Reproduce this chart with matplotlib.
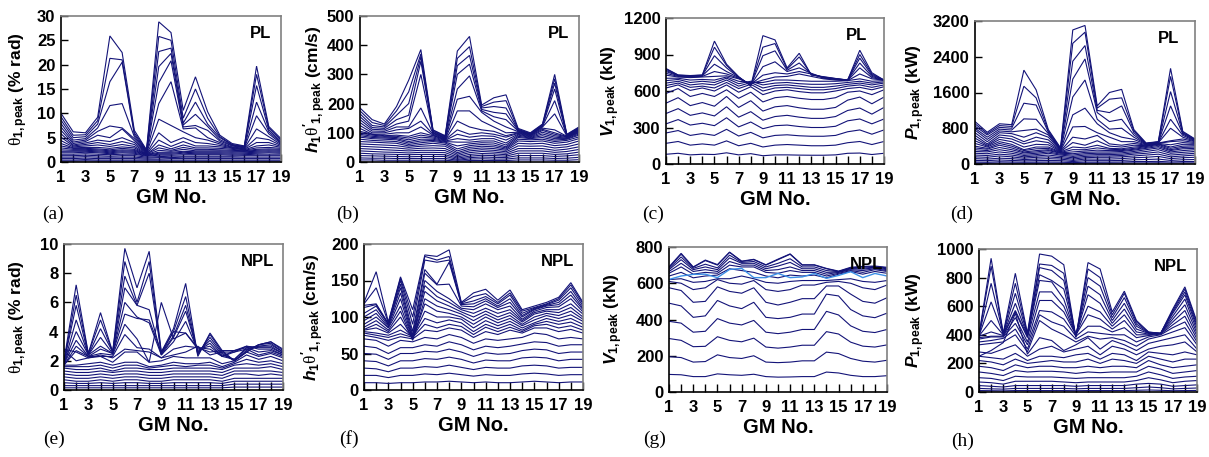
import matplotlib
matplotlib.use('Agg')
import matplotlib.pyplot as plt

plt.rcParams.update({
    'font.family': ['Liberation Sans', 'DejaVu Sans'],
    'font.weight': 'bold',
    'mathtext.fontset': 'custom',
    'mathtext.rm': 'Liberation Sans:bold',
    'mathtext.bf': 'Liberation Sans:bold',
    'mathtext.sf': 'Liberation Sans:bold',
    'mathtext.it': 'Liberation Sans:bold:italic',
    'mathtext.cal': 'Liberation Serif:regular',
})

# ---------------- data ----------------
gm_no = list(range(1, 20))
x_tick_labels = ['1', '3', '5', '7', '9', '11', '13', '15', '17', '19']

theta_pl = [
    [10.0, 6.2, 6.0, 9.2, 25.9, 22.5, 6.5, 2.5, 28.8, 26.6, 10.6, 17.5, 10.3, 5.5, 3.8, 3.3, 19.7, 7.3, 4.8],
    [9.3, 5.5, 5.6, 8.5, 21.3, 21.0, 6.0, 2.4, 25.8, 25.0, 9.0, 15.0, 9.0, 5.2, 3.6, 3.2, 18.0, 7.0, 4.5],
    [8.6, 5.0, 5.2, 7.8, 16.5, 20.5, 5.6, 2.3, 22.7, 23.4, 8.0, 12.3, 7.8, 5.0, 3.5, 3.1, 15.7, 6.6, 4.2],
    [7.9, 4.5, 4.8, 7.0, 11.6, 12.0, 5.2, 2.2, 19.6, 22.3, 7.6, 9.8, 7.3, 4.6, 3.4, 3.0, 12.3, 6.2, 4.0],
    [7.2, 4.1, 4.5, 6.3, 7.4, 7.0, 4.8, 2.1, 16.3, 20.8, 7.2, 7.5, 6.5, 4.3, 3.3, 2.9, 9.5, 5.8, 3.8],
    [6.5, 3.8, 4.2, 5.5, 5.0, 6.8, 4.4, 2.0, 12.0, 16.5, 6.8, 7.0, 5.0, 4.0, 3.1, 2.8, 6.8, 5.2, 3.6],
    [5.8, 3.5, 3.9, 4.5, 4.2, 5.0, 4.0, 1.9, 8.8, 7.5, 6.2, 5.0, 4.5, 3.7, 3.0, 2.7, 5.0, 4.6, 3.4],
    [5.1, 3.3, 3.6, 4.0, 3.6, 4.2, 3.6, 1.8, 6.0, 4.0, 5.0, 4.0, 3.8, 3.4, 2.9, 2.6, 4.0, 4.0, 3.2],
    [4.4, 3.1, 3.3, 3.5, 3.2, 3.6, 3.2, 1.7, 4.5, 3.2, 4.2, 3.3, 3.3, 3.1, 2.8, 2.5, 3.3, 3.5, 3.0],
    [3.8, 2.9, 3.0, 3.0, 2.8, 3.1, 2.9, 1.6, 3.5, 2.7, 3.5, 2.9, 2.9, 2.8, 2.6, 2.4, 2.9, 3.0, 2.8],
    [3.3, 2.8, 2.8, 2.7, 2.5, 2.8, 2.6, 1.6, 2.9, 2.4, 3.0, 2.6, 2.6, 2.5, 2.4, 2.3, 2.6, 2.7, 2.6],
    [2.9, 2.6, 2.6, 2.5, 2.3, 2.5, 2.4, 1.5, 2.4, 2.2, 2.6, 2.3, 2.3, 2.3, 2.2, 2.2, 2.4, 2.5, 2.4],
    [2.5, 2.4, 2.4, 2.3, 2.1, 2.3, 2.2, 1.5, 2.0, 2.0, 2.2, 2.1, 2.1, 2.1, 2.0, 2.1, 2.2, 2.3, 2.2],
    [2.2, 2.2, 2.2, 2.1, 1.9, 2.1, 2.0, 1.4, 1.8, 1.8, 2.0, 1.9, 1.9, 1.9, 1.8, 1.9, 2.0, 2.1, 2.0],
    [1.9, 1.9, 2.0, 1.9, 1.7, 1.9, 1.8, 1.3, 1.6, 1.6, 1.8, 1.7, 1.7, 1.7, 1.6, 1.7, 1.8, 1.9, 1.8],
    [1.6, 1.6, 1.7, 1.6, 1.5, 1.6, 1.6, 1.2, 1.4, 1.4, 1.5, 1.5, 1.5, 1.5, 1.4, 1.5, 1.6, 1.6, 1.6],
    [1.3, 1.3, 1.4, 1.3, 1.2, 1.3, 1.3, 1.0, 1.1, 1.2, 1.2, 1.2, 1.2, 1.2, 1.2, 1.3, 1.3, 1.3, 1.3],
    [1.0, 1.0, 1.1, 1.0, 1.0, 1.0, 1.0, 0.8, 0.9, 0.9, 1.0, 1.0, 1.0, 1.0, 1.0, 1.0, 1.0, 1.0, 1.0],
    [0.7, 0.7, 0.8, 0.7, 0.7, 0.7, 0.7, 0.6, 0.6, 0.7, 0.7, 0.7, 0.7, 0.7, 0.7, 0.7, 0.7, 0.7, 0.7],
    [0.4, 0.4, 0.5, 0.4, 0.4, 0.4, 0.4, 0.4, 0.4, 0.4, 0.4, 0.4, 0.4, 0.4, 0.4, 0.4, 0.4, 0.4, 0.4],
    [0.2, 0.2, 0.25, 0.2, 0.2, 0.2, 0.2, 0.2, 0.2, 0.2, 0.2, 0.2, 0.2, 0.2, 0.2, 0.2, 0.2, 0.2, 0.2],
]

hvel_pl = [
    [185, 145, 130, 190, 280, 385, 110, 90, 380, 430, 195, 220, 230, 115, 100, 130, 300, 95, 120],
    [175, 135, 125, 175, 240, 370, 108, 88, 355, 395, 190, 205, 210, 112, 98, 128, 285, 93, 118],
    [165, 125, 120, 160, 200, 360, 105, 86, 330, 365, 185, 190, 185, 110, 96, 126, 270, 92, 116],
    [155, 118, 115, 145, 160, 345, 102, 84, 300, 335, 180, 170, 165, 108, 95, 124, 250, 91, 114],
    [145, 112, 110, 130, 140, 300, 100, 82, 250, 295, 175, 155, 145, 106, 94, 122, 210, 90, 112],
    [135, 106, 105, 120, 120, 185, 98, 80, 215, 225, 170, 140, 120, 104, 93, 120, 165, 89, 110],
    [125, 100, 100, 110, 115, 140, 95, 78, 175, 175, 140, 120, 100, 102, 92, 116, 110, 88, 108],
    [115, 95, 95, 100, 100, 120, 92, 76, 140, 120, 110, 105, 90, 100, 90, 112, 100, 87, 106],
    [105, 95, 90, 92, 88, 100, 90, 76, 110, 95, 100, 95, 85, 98, 88, 108, 95, 86, 104],
    [100, 92, 88, 88, 82, 92, 86, 74, 95, 85, 90, 88, 75, 95, 86, 102, 90, 84, 102],
    [95, 88, 85, 84, 76, 85, 82, 72, 80, 75, 80, 80, 65, 92, 84, 96, 85, 82, 100],
    [90, 84, 82, 80, 70, 78, 78, 70, 68, 68, 72, 72, 58, 88, 82, 90, 80, 80, 96],
    [85, 80, 78, 76, 65, 72, 74, 68, 55, 62, 66, 65, 52, 84, 80, 84, 75, 78, 92],
    [78, 74, 72, 70, 60, 66, 70, 65, 45, 56, 60, 58, 48, 78, 76, 78, 70, 74, 86],
    [70, 68, 66, 64, 55, 60, 64, 60, 38, 50, 54, 52, 44, 72, 70, 72, 64, 68, 80],
    [62, 60, 58, 56, 50, 54, 56, 54, 32, 44, 48, 46, 40, 64, 62, 64, 56, 60, 72],
    [54, 52, 50, 48, 44, 47, 48, 46, 27, 38, 42, 40, 35, 55, 54, 55, 48, 52, 62],
    [46, 44, 42, 40, 38, 40, 40, 39, 22, 32, 36, 34, 30, 46, 46, 46, 40, 44, 52],
    [38, 36, 34, 33, 31, 33, 33, 32, 17, 26, 29, 28, 25, 38, 38, 38, 33, 36, 43],
    [30, 28, 27, 26, 25, 26, 26, 25, 13, 20, 23, 22, 20, 30, 30, 30, 26, 28, 34],
    [22, 21, 20, 19, 18, 19, 19, 19, 9, 15, 17, 16, 15, 22, 22, 22, 19, 21, 25],
    [14, 13, 13, 12, 12, 12, 12, 12, 6, 10, 11, 10, 10, 14, 14, 14, 12, 13, 16],
    [7, 7, 6, 6, 6, 6, 6, 6, 3, 5, 5, 5, 5, 7, 7, 7, 6, 6, 8],
]

shear_pl = [
    [80, 88, 75, 80, 78, 92, 75, 85, 68, 75, 75, 73, 72, 72, 75, 88, 90, 78, 88],
    [170, 185, 155, 165, 155, 190, 150, 170, 140, 155, 160, 155, 150, 150, 155, 175, 185, 160, 185],
    [255, 275, 235, 250, 235, 285, 230, 260, 215, 235, 240, 232, 228, 228, 235, 265, 280, 245, 280],
    [330, 365, 320, 335, 315, 380, 305, 345, 290, 315, 320, 308, 300, 300, 310, 355, 370, 330, 370],
    [415, 455, 400, 420, 395, 470, 385, 430, 360, 390, 400, 385, 375, 375, 390, 440, 460, 410, 465],
    [500, 545, 480, 505, 475, 555, 465, 520, 435, 470, 480, 462, 450, 450, 465, 525, 550, 495, 550],
    [580, 620, 555, 580, 555, 610, 540, 590, 510, 545, 555, 540, 530, 530, 545, 590, 600, 570, 610],
    [625, 650, 605, 625, 600, 650, 590, 635, 570, 600, 610, 595, 585, 585, 600, 620, 630, 610, 635],
    [645, 665, 630, 640, 625, 670, 620, 655, 600, 625, 630, 620, 610, 610, 620, 640, 650, 630, 650],
    [665, 680, 650, 660, 650, 690, 640, 670, 625, 645, 650, 640, 630, 630, 640, 655, 665, 650, 665],
    [685, 695, 670, 680, 670, 705, 660, 680, 650, 665, 670, 660, 655, 655, 660, 670, 680, 665, 675],
    [705, 705, 690, 695, 690, 715, 680, 670, 670, 690, 690, 685, 680, 680, 680, 685, 700, 680, 685],
    [730, 715, 710, 715, 720, 725, 700, 660, 690, 715, 720, 740, 720, 700, 690, 685, 740, 700, 690],
    [745, 720, 715, 720, 760, 740, 705, 655, 730, 750, 740, 760, 740, 705, 695, 688, 790, 710, 690],
    [760, 725, 720, 725, 820, 760, 710, 650, 800, 840, 760, 790, 745, 710, 698, 690, 830, 720, 690],
    [770, 728, 722, 728, 890, 790, 712, 648, 890, 930, 770, 830, 740, 712, 700, 690, 870, 730, 690],
    [780, 730, 725, 730, 960, 810, 715, 645, 960, 990, 780, 880, 735, 715, 702, 690, 900, 740, 690],
    [785, 732, 727, 732, 1010, 820, 718, 640, 1055, 1020, 790, 910, 730, 718, 703, 690, 935, 750, 690],
]

power_pl = [
    [950, 710, 900, 880, 2100, 1660, 770, 360, 3000, 3100, 1300, 1600, 1670, 770, 470, 500, 2140, 730, 560],
    [900, 680, 860, 840, 1740, 1480, 740, 350, 2700, 2950, 1250, 1450, 1480, 740, 460, 495, 1960, 710, 550],
    [850, 650, 820, 800, 1360, 1320, 710, 340, 2300, 2650, 1200, 1150, 1300, 700, 455, 490, 1620, 690, 540],
    [800, 600, 780, 760, 1010, 1000, 680, 330, 1900, 2350, 1150, 950, 1000, 650, 450, 485, 1300, 670, 530],
    [760, 550, 740, 720, 750, 780, 650, 320, 1500, 1880, 1000, 780, 800, 600, 445, 480, 1000, 640, 520],
    [700, 500, 700, 680, 600, 700, 600, 310, 1100, 1250, 900, 700, 600, 550, 440, 475, 800, 600, 510],
    [640, 450, 650, 620, 500, 600, 540, 300, 830, 840, 700, 600, 500, 500, 430, 470, 520, 560, 500],
    [580, 420, 600, 560, 450, 520, 480, 290, 600, 560, 640, 450, 420, 460, 420, 465, 500, 520, 480],
    [520, 400, 550, 500, 380, 440, 430, 280, 480, 420, 520, 400, 380, 420, 410, 460, 430, 480, 460],
    [460, 380, 500, 440, 320, 380, 380, 270, 380, 360, 420, 350, 340, 380, 400, 450, 380, 440, 440],
    [400, 350, 460, 400, 300, 340, 350, 260, 320, 320, 360, 330, 320, 350, 390, 440, 350, 400, 410],
    [360, 330, 420, 360, 270, 300, 320, 250, 270, 290, 310, 300, 300, 330, 370, 420, 320, 370, 380],
    [320, 300, 370, 320, 250, 270, 300, 240, 230, 260, 270, 270, 280, 310, 350, 390, 300, 340, 350],
    [280, 270, 320, 280, 220, 240, 270, 220, 200, 230, 240, 240, 250, 280, 320, 360, 270, 300, 320],
    [240, 230, 270, 240, 190, 210, 240, 200, 170, 200, 210, 210, 220, 250, 280, 320, 240, 260, 280],
    [200, 190, 220, 200, 160, 180, 200, 170, 140, 170, 180, 180, 190, 220, 240, 270, 200, 220, 240],
    [160, 150, 180, 160, 130, 150, 160, 140, 110, 140, 150, 150, 160, 180, 200, 220, 160, 180, 200],
    [120, 110, 130, 120, 100, 110, 120, 110, 80, 110, 110, 110, 120, 140, 150, 170, 120, 140, 150],
    [80, 75, 90, 80, 70, 75, 80, 75, 55, 75, 75, 75, 80, 95, 100, 110, 80, 95, 100],
    [45, 40, 50, 45, 40, 42, 45, 42, 30, 42, 42, 42, 45, 55, 55, 60, 45, 55, 55],
    [20, 18, 22, 20, 18, 19, 20, 19, 14, 19, 19, 19, 20, 25, 25, 28, 20, 25, 25],
]

theta_npl = [
    [2.0, 7.2, 2.5, 5.3, 2.6, 9.7, 7.0, 9.5, 2.6, 4.2, 7.3, 2.3, 3.9, 2.7, 2.0, 2.6, 3.1, 3.3, 2.8],
    [1.9, 6.5, 2.5, 4.8, 2.6, 8.8, 6.0, 8.8, 2.5, 4.0, 6.4, 2.4, 3.8, 2.6, 2.0, 2.6, 3.1, 3.3, 2.7],
    [1.9, 5.8, 2.4, 4.2, 2.6, 7.8, 5.8, 8.0, 2.5, 3.7, 5.8, 2.5, 3.6, 2.5, 2.0, 2.7, 3.1, 3.2, 2.6],
    [1.8, 4.8, 2.4, 3.6, 2.5, 7.0, 5.8, 5.5, 2.4, 3.6, 5.4, 2.6, 3.4, 2.4, 2.1, 2.8, 3.0, 3.1, 2.6],
    [1.8, 4.0, 2.4, 3.0, 2.5, 6.0, 5.0, 4.6, 2.4, 3.3, 4.7, 2.7, 3.2, 2.3, 2.1, 2.9, 3.0, 3.0, 2.5],
    [1.8, 3.4, 2.3, 2.8, 2.5, 5.2, 4.9, 4.8, 2.6, 4.0, 3.9, 2.8, 3.0, 2.3, 2.6, 3.0, 2.9, 2.9, 2.5],
    [1.7, 3.0, 2.3, 2.5, 2.4, 4.5, 3.5, 1.9, 6.0, 3.5, 3.9, 2.9, 2.8, 2.3, 2.7, 3.0, 2.8, 2.8, 2.4],
    [1.7, 2.7, 2.3, 2.3, 2.3, 3.8, 2.9, 2.8, 2.2, 2.8, 3.0, 2.9, 2.6, 2.7, 2.7, 2.9, 2.6, 2.7, 2.4],
    [2.8, 2.6, 2.2, 2.4, 2.2, 2.8, 2.7, 2.6, 2.2, 2.4, 2.6, 3.0, 2.4, 2.6, 2.6, 2.8, 2.4, 2.6, 2.3],
    [2.7, 2.0, 2.2, 2.3, 1.9, 2.6, 2.6, 1.9, 2.0, 2.3, 2.2, 2.2, 2.2, 1.8, 2.0, 2.6, 2.3, 2.5, 2.2],
    [1.7, 1.7, 1.8, 1.9, 1.7, 1.9, 1.9, 1.6, 1.7, 1.9, 1.8, 1.8, 1.9, 1.6, 1.9, 2.4, 2.1, 2.3, 2.0],
    [1.6, 1.6, 1.6, 1.7, 1.5, 1.7, 1.7, 1.5, 1.6, 1.7, 1.6, 1.7, 1.7, 1.5, 1.8, 2.1, 1.9, 2.0, 1.8],
    [1.5, 1.4, 1.4, 1.5, 1.3, 1.5, 1.5, 1.4, 1.4, 1.5, 1.5, 1.5, 1.5, 1.4, 1.7, 1.8, 1.7, 1.8, 1.6],
    [1.3, 1.2, 1.2, 1.3, 1.2, 1.3, 1.3, 1.2, 1.2, 1.3, 1.3, 1.3, 1.3, 1.2, 1.5, 1.5, 1.5, 1.6, 1.4],
    [1.1, 1.0, 1.0, 1.1, 1.0, 1.1, 1.1, 1.0, 1.0, 1.1, 1.1, 1.1, 1.1, 1.0, 1.3, 1.3, 1.3, 1.3, 1.2],
    [0.9, 0.8, 0.8, 0.9, 0.8, 0.9, 0.9, 0.8, 0.8, 0.9, 0.9, 0.9, 0.9, 0.8, 1.1, 1.1, 1.0, 1.1, 1.0],
    [0.7, 0.6, 0.6, 0.7, 0.6, 0.7, 0.7, 0.6, 0.6, 0.7, 0.7, 0.7, 0.7, 0.6, 0.8, 0.8, 0.8, 0.8, 0.8],
    [0.5, 0.45, 0.45, 0.5, 0.45, 0.5, 0.5, 0.45, 0.45, 0.5, 0.5, 0.5, 0.5, 0.45, 0.6, 0.6, 0.6, 0.6, 0.6],
    [0.3, 0.3, 0.3, 0.3, 0.3, 0.3, 0.3, 0.3, 0.3, 0.3, 0.3, 0.3, 0.3, 0.3, 0.4, 0.4, 0.4, 0.4, 0.4],
    [0.15, 0.15, 0.15, 0.15, 0.15, 0.15, 0.15, 0.15, 0.15, 0.15, 0.15, 0.15, 0.15, 0.15, 0.2, 0.2, 0.2, 0.2, 0.2],
]

hvel_npl = [
    [120, 162, 93, 155, 110, 185, 183, 192, 120, 133, 138, 123, 137, 110, 115, 120, 127, 147, 120],
    [118, 140, 92, 153, 100, 183, 178, 183, 119, 128, 132, 120, 133, 108, 113, 118, 125, 144, 118],
    [116, 118, 91, 150, 90, 178, 175, 178, 118, 122, 128, 118, 130, 105, 112, 117, 123, 140, 115],
    [113, 117, 90, 145, 80, 165, 145, 175, 117, 118, 125, 115, 125, 102, 111, 116, 120, 135, 112],
    [105, 115, 90, 140, 75, 160, 144, 145, 115, 114, 122, 113, 120, 100, 110, 115, 117, 130, 110],
    [100, 110, 88, 133, 72, 150, 135, 125, 112, 110, 118, 110, 115, 97, 108, 113, 114, 125, 107],
    [95, 105, 86, 125, 70, 143, 128, 120, 110, 105, 112, 105, 110, 95, 106, 110, 110, 118, 104],
    [90, 100, 85, 115, 70, 135, 122, 115, 107, 100, 108, 100, 106, 93, 104, 108, 106, 113, 100],
    [86, 95, 82, 108, 68, 125, 115, 110, 104, 95, 104, 96, 102, 90, 100, 105, 102, 108, 97],
    [83, 90, 80, 100, 70, 118, 108, 105, 100, 90, 100, 92, 98, 88, 96, 102, 98, 103, 94],
    [82, 85, 78, 90, 72, 108, 100, 100, 97, 85, 95, 88, 94, 85, 92, 98, 94, 98, 90],
    [80, 78, 75, 82, 73, 98, 92, 96, 92, 80, 90, 84, 90, 82, 90, 94, 90, 93, 86],
    [78, 75, 72, 77, 72, 90, 85, 90, 87, 76, 86, 80, 86, 80, 88, 90, 85, 88, 82],
    [75, 72, 68, 73, 70, 82, 80, 85, 82, 72, 80, 76, 82, 78, 85, 85, 80, 83, 78],
    [70, 68, 60, 68, 66, 72, 70, 76, 72, 64, 70, 68, 70, 72, 78, 76, 70, 72, 70],
    [60, 58, 50, 58, 58, 62, 60, 66, 62, 55, 60, 58, 60, 63, 66, 65, 60, 62, 62],
    [50, 49, 42, 50, 50, 53, 52, 56, 52, 46, 51, 49, 50, 54, 56, 55, 50, 52, 52],
    [40, 39, 33, 40, 40, 43, 42, 45, 42, 37, 41, 40, 40, 44, 45, 44, 40, 42, 42],
    [30, 29, 25, 30, 30, 32, 31, 34, 31, 28, 31, 30, 30, 33, 34, 33, 30, 31, 31],
    [20, 20, 17, 20, 20, 22, 21, 23, 21, 19, 21, 20, 20, 22, 23, 22, 20, 21, 21],
    [10, 10, 9, 10, 10, 11, 11, 12, 11, 10, 11, 10, 10, 11, 12, 11, 10, 11, 11],
]

shear_npl = [
    [97, 95, 85, 85, 100, 95, 92, 98, 85, 82, 83, 85, 85, 110, 105, 92, 85, 85, 90],
    [195, 190, 165, 168, 205, 190, 185, 200, 165, 162, 165, 172, 172, 220, 212, 185, 170, 165, 175],
    [295, 285, 250, 252, 305, 285, 277, 297, 248, 242, 248, 258, 258, 333, 320, 275, 253, 248, 260],
    [390, 380, 330, 335, 405, 380, 370, 395, 330, 322, 330, 345, 345, 445, 425, 365, 335, 328, 345],
    [490, 475, 412, 420, 505, 475, 460, 495, 412, 405, 412, 430, 430, 540, 530, 455, 420, 410, 435],
    [575, 560, 495, 500, 580, 555, 545, 575, 495, 480, 495, 515, 515, 585, 585, 540, 500, 490, 520],
    [610, 600, 565, 575, 620, 600, 595, 615, 565, 555, 565, 590, 590, 605, 610, 600, 575, 565, 590],
    [620, 625, 605, 610, 625, 625, 640, 625, 605, 600, 610, 615, 615, 615, 620, 625, 610, 605, 615],
    [640, 660, 630, 640, 645, 680, 670, 660, 640, 630, 645, 640, 645, 630, 650, 665, 650, 665, 655],
    [655, 690, 650, 660, 655, 700, 690, 690, 660, 655, 670, 660, 660, 640, 655, 670, 660, 675, 665],
    [665, 710, 665, 675, 665, 720, 700, 700, 670, 675, 690, 670, 670, 650, 660, 675, 670, 680, 670],
    [675, 730, 675, 690, 675, 740, 710, 710, 680, 695, 715, 680, 680, 660, 662, 680, 678, 685, 675],
    [682, 745, 682, 705, 685, 755, 715, 720, 690, 710, 735, 690, 690, 670, 664, 682, 684, 688, 680],
    [688, 760, 688, 725, 700, 770, 720, 730, 700, 730, 760, 700, 700, 680, 665, 685, 690, 692, 685],
    [690, 765, 690, 728, 703, 772, 722, 732, 702, 733, 762, 702, 702, 682, 667, 688, 693, 695, 688],
]
shear_npl_highlight = [621, 640, 649, 650, 631, 676, 682, 631, 631, 654, 631, 635, 654, 627, 643, 664, 631, 654, 640]

power_npl = [
    [400, 935, 410, 830, 410, 965, 950, 890, 380, 905, 860, 560, 705, 500, 420, 410, 580, 735, 490],
    [398, 880, 408, 760, 405, 895, 885, 830, 385, 860, 800, 540, 690, 490, 418, 410, 570, 720, 480],
    [396, 760, 405, 690, 400, 870, 850, 780, 390, 800, 740, 520, 660, 475, 415, 410, 560, 700, 465],
    [394, 630, 402, 620, 395, 820, 780, 720, 395, 740, 680, 500, 620, 460, 412, 410, 550, 680, 450],
    [392, 500, 400, 570, 390, 780, 770, 650, 398, 680, 620, 480, 580, 440, 410, 410, 530, 650, 430],
    [390, 420, 395, 560, 380, 700, 700, 600, 400, 600, 560, 460, 540, 420, 405, 410, 510, 610, 410],
    [380, 390, 390, 520, 350, 640, 640, 560, 400, 540, 510, 440, 500, 400, 400, 408, 490, 570, 390],
    [370, 385, 385, 480, 330, 570, 560, 510, 390, 460, 460, 420, 450, 380, 395, 405, 470, 530, 370],
    [350, 360, 375, 440, 300, 540, 490, 460, 370, 420, 410, 400, 400, 350, 385, 400, 450, 490, 350],
    [330, 340, 350, 400, 280, 500, 440, 400, 350, 390, 370, 380, 360, 320, 370, 390, 420, 450, 330],
    [250, 290, 345, 550, 265, 380, 360, 290, 330, 380, 300, 360, 330, 290, 340, 360, 380, 400, 300],
    [280, 270, 300, 330, 250, 300, 320, 280, 300, 320, 260, 320, 300, 260, 300, 320, 330, 350, 280],
    [250, 240, 230, 270, 220, 250, 250, 240, 260, 270, 230, 270, 260, 220, 280, 270, 260, 280, 260],
    [220, 210, 190, 230, 200, 210, 220, 210, 210, 230, 200, 230, 220, 200, 250, 230, 210, 230, 230],
    [180, 170, 150, 190, 170, 180, 180, 170, 170, 180, 170, 180, 180, 170, 220, 190, 170, 180, 190],
    [140, 130, 115, 150, 140, 145, 145, 140, 130, 140, 135, 140, 140, 140, 180, 160, 130, 140, 150],
    [100, 95, 80, 110, 105, 105, 105, 100, 95, 100, 100, 100, 100, 110, 140, 120, 95, 105, 110],
    [70, 65, 55, 75, 75, 75, 75, 70, 65, 70, 70, 70, 70, 80, 100, 85, 65, 75, 80],
    [45, 40, 35, 45, 45, 45, 45, 45, 40, 45, 45, 45, 45, 55, 60, 55, 40, 45, 50],
    [25, 22, 20, 25, 25, 25, 25, 25, 22, 25, 25, 25, 25, 30, 35, 30, 22, 25, 28],
    [10, 9, 8, 10, 10, 10, 10, 10, 9, 10, 10, 10, 10, 12, 14, 12, 9, 10, 11],
]

y_ticks_a = [0, 5, 10, 15, 20, 25, 30]
y_ticks_b = [0, 100, 200, 300, 400, 500]
y_ticks_c = [0, 300, 600, 900, 1200]
y_ticks_d = [0, 800, 1600, 2400, 3200]
y_ticks_e = [0, 2, 4, 6, 8, 10]
y_ticks_f = [0, 50, 100, 150, 200]
y_ticks_g = [0, 200, 400, 600, 800]
y_ticks_h = [0, 200, 400, 600, 800, 1000]

lab_theta = r"$\mathcal{\theta}_{\mathrm{1,peak}}$ (% rad)"
lab_hvel = r"$\mathit{h}_{\mathrm{1}}\mathcal{\theta}'_{\mathrm{1,peak}}$ (cm/s)"
lab_v = r"$\mathit{V}_{\mathrm{1,peak}}$ (kN)"
lab_p = r"$\mathit{P}_{\mathrm{1,peak}}$ (kW)"

# ---------------- layout ----------------
W, H = 1209, 457
fig = plt.figure(figsize=(W / 100, H / 100), dpi=100)

NAVY = '#131378'
LIGHT = '#3b8fe6'

panels = [
    # (data, yticks, ylabel, tag, letter, box px (l, t, r, b), ylabel x frac, tag x, letter px)
    (theta_pl, y_ticks_a, lab_theta, 'PL', '(a)', (61, 16, 281, 162), -0.19, 0.955, (53, 214)),
    (hvel_pl, y_ticks_b, lab_hvel, 'PL', '(b)', (360, 16, 579, 162), -0.205, 0.955, (348, 214)),
    (shear_pl, y_ticks_c, lab_v, 'PL', '(c)', (666, 18, 884, 164), -0.255, 0.925, (653, 214)),
    (power_pl, y_ticks_d, lab_p, 'PL', '(d)', (975, 21, 1195, 164), -0.27, 0.93, (962, 214)),
    (theta_npl, y_ticks_e, lab_theta, 'NPL', '(e)', (64, 244, 283, 390), -0.205, 0.96, (54, 439)),
    (hvel_npl, y_ticks_f, lab_hvel, 'NPL', '(f)', (364, 244, 583, 390), -0.235, 0.96, (349, 439)),
    (shear_npl, y_ticks_g, lab_v, 'NPL', '(g)', (669, 247, 887, 392), -0.255, 0.985, (655, 439)),
    (power_npl, y_ticks_h, lab_p, 'NPL', '(h)', (979, 249, 1197, 392), -0.29, 0.955, (963, 441)),
]

for idx, (lines, yt, ylab, tag, letter, box, ylx, tagx, lpos) in enumerate(panels):
    l, t, r, b = box
    ax = fig.add_axes([l / W, 1 - b / H, (r - l) / W, (b - t) / H])
    for ys in lines:
        ax.plot(gm_no, ys, color=NAVY, lw=0.8, solid_joinstyle='miter')
    if idx == 6:
        ax.plot(gm_no, shear_npl_highlight, color=LIGHT, lw=1.0)
    ax.set_xlim(1, 19)
    ax.set_ylim(yt[0], yt[-1])
    ax.set_xticks(gm_no[::2])
    ax.set_xticklabels(x_tick_labels)
    ax.set_xticks(gm_no[1::2], minor=True)
    ax.set_yticks(yt)
    ax.tick_params(axis='x', which='both', direction='in', length=6, width=1, pad=6,
                   labelsize=12, colors='black')
    ax.tick_params(axis='y', which='both', direction='in', length=5, width=1, pad=4,
                   labelsize=12)
    for s in ('left', 'bottom'):
        ax.spines[s].set_color('black')
        ax.spines[s].set_linewidth(1.2)
    for s in ('top', 'right'):
        ax.spines[s].set_color('#808080')
        ax.spines[s].set_linewidth(1.2)
    ax.set_ylabel(ylab, fontsize=12.5, fontweight='bold')
    ax.yaxis.label.set_va('center')
    ax.yaxis.set_label_coords(ylx, 0.5)
    ax.set_xlabel('GM No.', fontsize=14.5, fontweight='bold', labelpad=2)
    ax.text(tagx, 0.88, tag, transform=ax.transAxes, ha='right', va='center',
            fontsize=12, fontweight='bold')
    fig.text(lpos[0] / W, 1 - lpos[1] / H, letter, ha='center', va='center',
             fontsize=14, fontweight='normal', family='Liberation Serif')

fig.savefig('out.png', dpi=100)
